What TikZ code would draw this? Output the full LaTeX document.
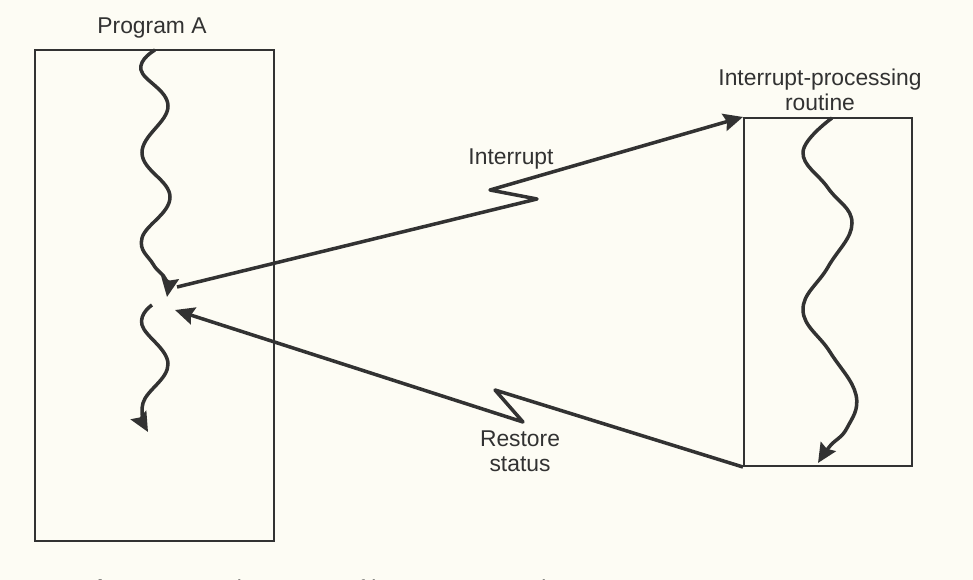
\documentclass[tikz,border=0pt]{standalone}
\usepackage{fontspec}
\setmainfont{Liberation Sans}
\usetikzlibrary{arrows.meta}
\begin{document}
\begin{tikzpicture}[x=0.02cm,y=-0.02cm,font=\fontsize{13}{14}\selectfont,
  box/.style={draw=ink,line width=1.2pt,inner sep=0pt},
  flow/.style={draw=ink,line width=2pt,line join=round,
    -{Stealth[length=11pt,width=10pt,inset=1.5pt]}},
  label/.style={text=ink,align=center}]
\definecolor{ink}{RGB}{50,50,50}
\definecolor{paper}{RGB}{253,252,244}
\fill[paper] (0,0) rectangle (973,580);
\useasboundingbox (0,0) rectangle (973,580);
% the two blocks of code
\node[box,minimum width=4.78cm,minimum height=9.82cm] (progA) at (154.5,295.5) {};
\node[box,minimum width=3.36cm,minimum height=6.96cm] (isr) at (828,292) {};
\node[label] (progAname) at (152,28) {Program A};
\node[label] (isrname) at (820,90) {Interrupt-processing\\routine};
% flow of control inside each block
\draw[flow] plot[smooth,tension=0.7] coordinates {(155,50) (141,70) (168,106)
  (142,153) (170,197) (142,238) (153,264) (166,280) (167,297)};
\draw[flow] plot[smooth,tension=0.7] coordinates {(152,305) (142,325)
  (168,364) (143,403) (148,432)};
\draw[flow] plot[smooth,tension=0.7] coordinates {(832,118) (803,152) (828,188)
  (852,223) (828,267) (803,310) (830,352) (856,395) (847,428) (830,446) (818,463)};
% switching between the blocks
\coordinate (brk) at (177,287);
\coordinate (ret) at (175,310);
\draw[flow] (brk) -- (537,199) -- (490,190) -- (isr.north west);
\node[label] (intlbl) at (511,159) {Interrupt};
\draw[flow] (isr.south west) -- (495,390) -- (523,422) -- (ret);
\node[label] (retlbl) at (520,451) {Restore\\status};
\node[anchor=base west,text=ink] (caption) at (77,596)
  {\textbf{Figure 3.3} Basic concept of interrupt processing};
\end{tikzpicture}
\end{document}
